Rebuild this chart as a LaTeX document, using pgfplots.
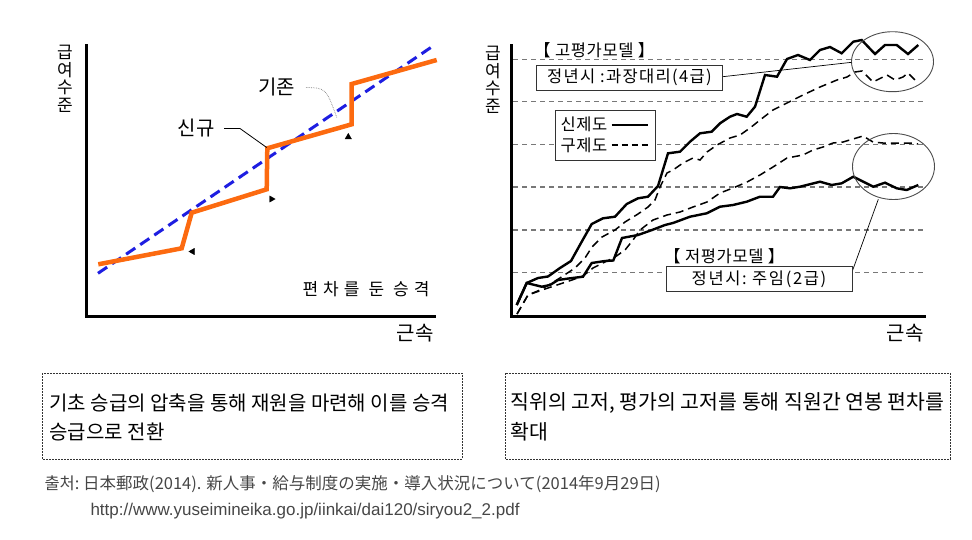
\documentclass[border=0pt]{standalone}
\usepackage{pgfplots}
\pgfplotsset{compat=1.18}
\usepackage{fontspec}
\setmainfont{Noto Sans CJK KR}
\newfontfamily\jp{Noto Sans CJK JP}
\newfontfamily\lat{Liberation Sans}
\definecolor{orng}{RGB}{252,106,16}
\definecolor{blu}{RGB}{30,30,225}
\definecolor{grd}{RGB}{120,120,120}
\definecolor{src}{RGB}{70,70,70}
\begin{document}
\begin{tikzpicture}
\begin{axis}[x=1pt, y=1pt, xmin=0, xmax=972, ymin=0, ymax=539, y dir=reverse,
  hide axis, clip=false]
\draw[draw=none] (rel axis cs:0,0) rectangle (rel axis cs:1,1);
% ---------------- left panel ----------------
\addplot[blu, line width=3pt, dash pattern=on 11pt off 6pt, mark=none] coordinates {(98,273.3)(432,46.7)};
\addplot[orng, line width=4.5pt, mark=none, line join=miter] coordinates {
(98.3,264.3)(181.7,248.3)(191.7,212.7)(266.7,189.3)(267.3,148.3)(351.7,124.3)(351.7,84)(436.7,60)};
\addplot[black, only marks, mark=triangle*, mark size=3.6pt, mark options={rotate=90}] coordinates {(192.5,251.5)};
\addplot[black, only marks, mark=triangle*, mark size=3.6pt, mark options={rotate=-90}] coordinates {(271.5,199)};
\addplot[black, only marks, mark=triangle*, mark size=3.6pt] coordinates {(348.3,137)};
\addplot[black, line width=3pt, mark=none] coordinates {(86,44)(86,316)(436,316)};
\draw[black, line width=0.8pt] (axis cs:224,128.5) -- (axis cs:240,128.5) -- (axis cs:266.7,147.5);
\draw[gray, line width=0.7pt, densely dotted] (axis cs:306,87.5) .. controls (axis cs:326,88) .. (axis cs:337,118);
\node at (axis cs:276.7,87.3) {\fontsize{20}{22}\selectfont 기존};
\node at (axis cs:196,128.5) {\fontsize{20}{22}\selectfont 신규};
\node[anchor=east] at (axis cs:433,289.5) {\fontsize{17}{19}\selectfont\addfontfeature{LetterSpace=30}편차를 둔 승격};
\node at (axis cs:415,333.5) {\fontsize{20}{22}\selectfont 근속};
\node[align=center, inner sep=0pt, font=\fontsize{17}{17.5}\selectfont] at (axis cs:65,79) {급\\여\\수\\준};
% ---------------- right panel ----------------
\addplot[grd, line width=1.3pt, dash pattern=on 5pt off 4pt, mark=none] coordinates {(513,59.3)(923,59.3)};
\addplot[grd, line width=1.3pt, dash pattern=on 5pt off 4pt, mark=none] coordinates {(513,101.7)(923,101.7)};
\addplot[grd, line width=1.3pt, dash pattern=on 5pt off 4pt, mark=none] coordinates {(513,144.3)(923,144.3)};
\addplot[grd, line width=1.3pt, dash pattern=on 5pt off 4pt, mark=none] coordinates {(513,187)(923,187)};
\addplot[grd, line width=1.3pt, dash pattern=on 5pt off 4pt, mark=none] coordinates {(513,230)(923,230)};
\addplot[grd, line width=1.3pt, dash pattern=on 5pt off 4pt, mark=none] coordinates {(513,272.7)(923,272.7)};
% old system, high model (dashed)
\addplot[black, line width=1.5pt, dash pattern=on 8pt off 5pt, mark=none] coordinates {
(517,314)(528,295)(540,290)(552,283)(563,276)(575,268)(585,258)(592,247)(602,237)(615,230)(625,222)(638,214)(648,207)(655,200)(660,187)(667,173)(673,170)(683,163)(693,158)(700,160)(707,152)(717,145)(730,138)(740,135)(750,128)(760,120)(773,110)(787,103)(803,95)(820,87)(837,80)(847,77)(855,72)(862,71)(873,82)(887,75)(895,80)(903,77)(908,73)(917,82)};
% old system, low model (dashed)
\addplot[black, line width=1.5pt, dash pattern=on 8pt off 5pt, mark=none] coordinates {
(517,314)(528,295)(545,289)(560,284)(572,280)(583,276)(593,268)(605,262)(615,257)(625,250)(633,240)(640,230)(653,220)(667,215)(680,212)(693,207)(707,202)(720,193)(733,188)(747,182)(760,175)(773,167)(787,158)(803,155)(813,150)(823,147)(833,143)(843,142)(853,139)(863,136)(873,142)(883,143)(897,143)(910,143)(918,144)};
% new system, high model (solid)
\addplot[black, line width=2.4pt, mark=none] coordinates {
(516.7,305)(526.7,283)(538,278)(548,276.5)(560,268)(571,261)(581,243)(591.7,224)(603,218.3)(615,216.7)(626.7,204)(638,198.3)(648,196.7)(658,186)(668,153.3)(680,151.7)(690,141.7)(700,133.3)(711.7,131.7)(720,123.3)(730,116.7)(737,114)(746.7,116.7)(755,106.7)(765,75)(777,76.7)(787,59)(798,55)(810,60)(820,50)(830,47)(841.7,53.3)(853.3,41.7)(861.7,40)(875,54)(885,45)(896.7,45)(908,54)(918.3,45)};
% new system, low model (solid)
\addplot[black, line width=2.4pt, mark=none] coordinates {
(516.7,305)(526.7,283)(541.7,286.7)(550,285)(558,280)(570,278.3)(583,276.7)(591.7,263)(605,261)(613.3,260.5)(622,238)(638,235)(652,230)(665,225)(673,223)(690,216.7)(706.7,213.3)(720,206.7)(733,205)(746.7,201.7)(760,196.7)(773,196.7)(780,187)(790,188.3)(800,186.7)(820,181.7)(831.7,185)(841.7,183.3)(853.3,176.7)(863.3,181.7)(873.3,186.7)(885,182.7)(896.7,188.3)(906.7,190)(918.3,185)};
\addplot[black, line width=3pt, mark=none] coordinates {(511,44)(511,316)(926,316)};
% ellipses and leaders
\draw[gray!60!black, line width=0.9pt] (axis cs:892.5,61.7) ellipse [x radius=41pt, y radius=30pt];
\draw[gray!60!black, line width=0.9pt] (axis cs:893.5,166.5) ellipse [x radius=41pt, y radius=33pt];
\draw[black, line width=0.7pt] (axis cs:722.7,76.7) -- (axis cs:851.7,62.3);
\draw[black, line width=0.7pt] (axis cs:852,272) -- (axis cs:878.3,199.3);
% labels and boxes
\node[anchor=west, fill=white, inner sep=1pt] at (axis cs:533,50.5) {\fontsize{16.5}{18}\selectfont\addfontfeature{LetterSpace=4}【 고평가모델 】};
\node[draw=black!80, line width=0.9pt, fill=white, minimum width=186.7pt, minimum height=25pt, inner sep=0pt] at (axis cs:629.3,77.5) {\fontsize{16.5}{18}\selectfont\addfontfeature{LetterSpace=8}정년시 :과장대리(4급)};
\draw[black!80, line width=0.9pt, fill=white] (axis cs:555,110) rectangle (axis cs:655,160);
\node[anchor=west] at (axis cs:557,124.5) {\fontsize{16.5}{18}\selectfont\addfontfeature{LetterSpace=4}신제도};
\node[anchor=west] at (axis cs:557,145) {\fontsize{16.5}{18}\selectfont\addfontfeature{LetterSpace=4}구제도};
\addplot[black, line width=1.5pt, mark=none] coordinates {(611.7,125)(648.3,125)};
\addplot[black, line width=1.5pt, dash pattern=on 6pt off 4pt, mark=none] coordinates {(611.7,145)(648.3,145)};
\node[anchor=west, fill=white, inner sep=1pt] at (axis cs:663,256) {\fontsize{16.5}{18}\selectfont\addfontfeature{LetterSpace=4}【 저평가모델 】};
\node[draw=black!80, line width=0.9pt, fill=white, minimum width=186pt, minimum height=25.5pt, inner sep=0pt] at (axis cs:759,279) {\fontsize{16.5}{18}\selectfont\addfontfeature{LetterSpace=10}정년시:\ 주임(2급)};
\node at (axis cs:905,333.5) {\fontsize{20}{22}\selectfont 근속};
\node[align=center, inner sep=0pt, font=\fontsize{17}{17.5}\selectfont] at (axis cs:493,80) {급\\여\\수\\준};
% ---------------- bottom ----------------
\draw[black!80, line width=0.9pt, dash pattern=on 1.6pt off 1.4pt] (axis cs:42,373) rectangle (axis cs:462,459);
\draw[black!80, line width=0.9pt, dash pattern=on 1.6pt off 1.4pt] (axis cs:505,373) rectangle (axis cs:950,459);
\node[anchor=west] at (axis cs:46,403) {\fontsize{20}{22}\selectfont 기초 승급의 압축을 통해 재원을 마련해 이를 승격};
\node[anchor=west] at (axis cs:46,432) {\fontsize{20}{22}\selectfont 승급으로 전환};
\node[anchor=west] at (axis cs:507,403) {\fontsize{20.5}{22}\selectfont 직위의 고저, 평가의 고저를 통해 직원간 연봉 편차를};
\node[anchor=west] at (axis cs:507,432) {\fontsize{20.5}{22}\selectfont 확대};
\node[anchor=west, text=src] at (axis cs:41,484) {\fontsize{16.5}{18}\selectfont 출처:\ {\jp 日本郵政(2014). 新人事・給与制度の実施・導入状況について(2014年9月29日)}};
\node[anchor=west, text=src] at (axis cs:87,511) {\lat\fontsize{17}{19}\selectfont http://www.yuseimineika.go.jp/iinkai/dai120/siryou2\_2.pdf};
\end{axis}
\end{tikzpicture}
\end{document}
